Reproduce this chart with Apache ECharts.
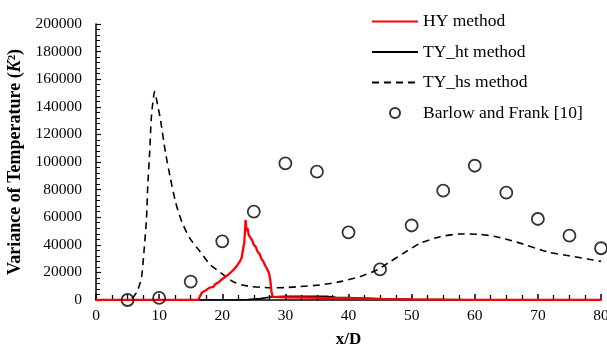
<!DOCTYPE html>
<html>
<head>
<meta charset="utf-8">
<script src="https://cdn.jsdelivr.net/npm/echarts@6/dist/echarts.min.js"></script>
<style>
  html, body { margin: 0; padding: 0; background: #fff; }
  #chart { width: 607px; height: 349px; }
</style>
</head>
<body>
<div id="chart"></div>
<script>
// Axis ticks
const xTicks = [0, 10, 20, 30, 40, 50, 60, 70, 80];
const yTicks = [0, 20000, 40000, 60000, 80000, 100000, 120000, 140000, 160000, 180000, 200000];

// HY method (x/D, variance)
const hyX = [0, 16.2, 16.5, 16.8, 17.1, 17.4, 17.7, 18.0, 18.3, 18.6, 18.9, 19.2, 19.5, 19.8, 20.1, 20.4, 20.7, 21.0, 21.3, 21.6, 21.9, 22.2, 22.5, 22.8, 23.1, 23.3, 23.5, 23.7, 23.85, 24.0, 24.2, 24.4, 24.7, 25.0, 25.3, 25.6, 25.9, 26.2, 26.5, 26.8, 27.1, 27.4, 27.6, 27.8, 28.0, 28.3, 30, 33, 36, 38, 40, 43, 46, 50, 55, 62, 70, 80];
const hyY = [0, 0, 3000, 5500, 5000, 7000, 6500, 9000, 8500, 9500, 11500, 11000, 13000, 14500, 13500, 16500, 15500, 18500, 17500, 21000, 20000, 24000, 23000, 28000, 31000, 37000, 42000, 58000, 50000, 52000, 47000, 46000, 43500, 40000, 38500, 35000, 33500, 30000, 28000, 25000, 22500, 19500, 15000, 6000, 2300, 1800, 1900, 1800, 1600, 1400, 1300, 1000, 700, 500, 300, 100, 0, 0];

// TY_ht method
const htX = [0, 22, 24, 26, 28, 30, 33, 36.5, 38, 40, 42, 45, 50, 55, 60, 70, 80];
const htY = [0, 0, 300, 1000, 2300, 2700, 2700, 2600, 2000, 1800, 1400, 900, 500, 300, 150, 50, 0];

// TY_hs method
const hsX = [0, 5, 5.7, 6.5, 7.2, 7.6, 8.0, 8.2, 8.5, 8.75, 9.0, 9.27, 9.6, 10.2, 11.0, 11.8, 12.6, 13.6, 14.9, 16.5, 18.1, 19.7, 21.7, 23, 24.4, 26, 28, 30, 32.3, 35.5, 38.7, 41.8, 44.5, 46.6, 48.7, 51.3, 54.5, 57.6, 60.8, 63.4, 66.6, 71.8, 75, 78.1, 80];
const hsY = [0, 0, 1200, 6000, 16000, 35000, 59000, 83000, 107000, 131000, 143000, 151000, 145000, 131000, 107000, 88000, 71000, 56500, 44500, 35000, 25500, 20000, 13300, 11000, 9800, 9200, 8800, 9000, 9700, 10900, 13300, 16900, 21700, 27800, 33800, 41000, 45900, 47800, 47600, 45900, 42000, 34500, 32000, 29500, 28000];

// Barlow and Frank [10] measurements
const expX = [5, 10, 15, 20, 25, 30, 35, 40, 45, 50, 55, 60, 65, 70, 75, 80];
const expY = [0, 1500, 13300, 42500, 64000, 99000, 93000, 49000, 22200, 54000, 79200, 97300, 77800, 58700, 46600, 37500];

const seriesNames = ['HY method', 'TY_ht method', 'TY_hs method', 'Barlow and Frank [10]'];

const pair = (xs, ys) => xs.map((x, i) => [x, ys[i]]);

const serif = '"Liberation Serif", "Times New Roman", serif';

const chart = echarts.init(document.getElementById('chart'), null, { renderer: 'canvas' });

chart.setOption({
  animation: false,
  backgroundColor: '#fff',
  grid: { left: 96, right: 6, top: 24, bottom: 49, containLabel: false, outerBoundsMode: 'none' },
  legend: {
    orient: 'vertical',
    left: 366,
    top: 6.5,
    itemWidth: 46,
    itemHeight: 10,
    itemGap: 10.5,
    data: [
      { name: seriesNames[0], itemStyle: { opacity: 0 } },
      { name: seriesNames[1], itemStyle: { opacity: 0 } },
      { name: seriesNames[2], itemStyle: { opacity: 0 } },
      { name: seriesNames[3], itemStyle: { borderWidth: 2, borderColor: '#000', color: 'rgba(0,0,0,0)' } }
    ],
    textStyle: { fontFamily: serif, fontSize: 17.5, color: '#000', lineHeight: 20 }
  },
  xAxis: {
    type: 'value',
    min: xTicks[0],
    max: xTicks[xTicks.length - 1],
    interval: xTicks[1] - xTicks[0],
    name: 'x/D',
    nameLocation: 'middle',
    nameGap: 31,
    nameTextStyle: { fontFamily: serif, fontSize: 17, fontWeight: 'bold', color: '#000' },
    axisLine: { show: true, onZero: false, lineStyle: { color: '#000', width: 1.5 } },
    axisTick: { show: true, inside: true, length: 6, lineStyle: { color: '#000', width: 1.5 } },
    minorTick: { show: true, splitNumber: 4, length: 5, lineStyle: { color: '#000', width: 1.3 } },
    axisLabel: { fontFamily: serif, fontSize: 15.5, color: '#000', margin: 8 },
    splitLine: { show: true, lineStyle: { color: 'rgba(0,0,0,0)' } }
  },
  yAxis: {
    type: 'value',
    min: yTicks[0],
    max: yTicks[yTicks.length - 1],
    interval: yTicks[1] - yTicks[0],
    name: '{b|Variance of Temperature (}{i|K}{b|²)}',
    nameLocation: 'middle',
    nameGap: 65,
    nameTextStyle: {
      color: '#000',
      rich: {
        b: { fontFamily: serif, fontSize: 18, fontWeight: 'bold', color: '#000' },
        i: { fontFamily: serif, fontSize: 18, fontWeight: 'bold', fontStyle: 'italic', color: '#000' }
      }
    },
    axisLine: { show: true, onZero: false, lineStyle: { color: '#000', width: 1.5 } },
    axisTick: { show: true, inside: true, length: 5, lineStyle: { color: '#000', width: 1.2 } },
    minorTick: { show: true, splitNumber: 5, length: 4, lineStyle: { color: '#000', width: 1 } },
    axisLabel: { fontFamily: serif, fontSize: 15.5, color: '#000', margin: 14, formatter: v => String(v) },
    splitLine: { show: false }
  },
  series: [
    {
      name: seriesNames[0],
      type: 'line',
      data: pair(hyX, hyY),
      symbol: 'none',
      lineStyle: { color: '#ff0000', width: 2.3 },
      itemStyle: { color: '#ff0000' },
      z: 3
    },
    {
      name: seriesNames[1],
      type: 'line',
      data: pair(htX, htY),
      symbol: 'none',
      lineStyle: { color: '#000', width: 1.6 },
      itemStyle: { color: '#000' },
      z: 2
    },
    {
      name: seriesNames[2],
      type: 'line',
      data: pair(hsX, hsY),
      symbol: 'none',
      smooth: 0.2,
      lineStyle: { color: '#000', width: 1.6, type: [7, 5] },
      itemStyle: { color: '#000' },
      z: 2
    },
    {
      name: seriesNames[3],
      type: 'scatter',
      data: pair(expX, expY),
      symbol: 'circle',
      symbolSize: 12,
      itemStyle: { color: 'rgba(0,0,0,0)', borderColor: '#000', borderWidth: 1.8 },
      z: 4
    }
  ]
});
</script>
</body>
</html>
